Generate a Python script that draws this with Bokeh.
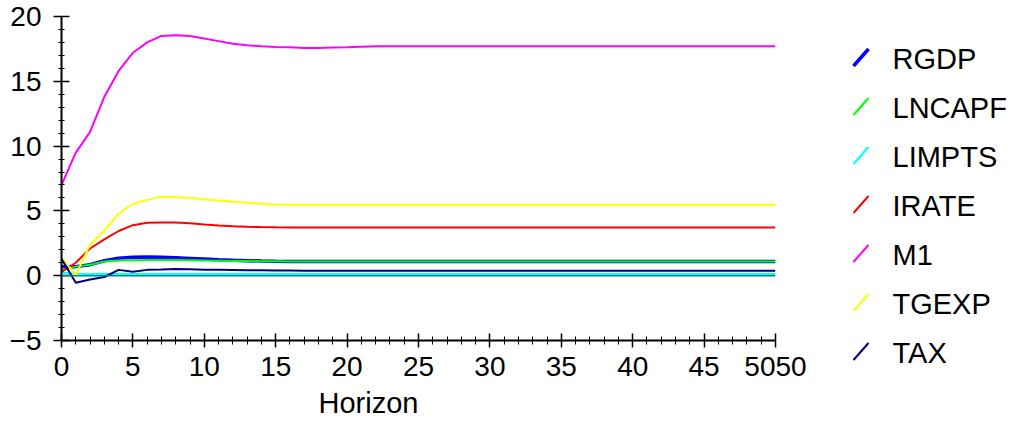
from bokeh.plotting import figure
from bokeh.layouts import row
from bokeh.models import Range1d, SingleIntervalTicker, Span, ColumnDataSource, Title
from bokeh.embed import file_html
from bokeh.resources import INLINE
from bokeh.core.properties import value

# ---------------- data ----------------
horizon = list(range(51))

RGDP = [0.7, 0.7, 0.85, 1.15, 1.35, 1.42, 1.45, 1.42, 1.38, 1.33, 1.28, 1.23, 1.19, 1.16, 1.13, 1.11, 1.1,
        1.09, 1.09, 1.09, 1.09, 1.09, 1.09, 1.09, 1.09, 1.09, 1.09, 1.09, 1.09, 1.09, 1.09, 1.09, 1.09,
        1.09, 1.09, 1.09, 1.09, 1.09, 1.09, 1.09, 1.09, 1.09, 1.09, 1.09, 1.09, 1.09, 1.09, 1.09, 1.09,
        1.09, 1.09]
LNCAPF = [0.45, 0.7, 0.85, 1.1, 1.18, 1.2, 1.22, 1.22, 1.22, 1.2, 1.18, 1.16, 1.14, 1.13, 1.12, 1.11, 1.1,
          1.1, 1.1, 1.1, 1.1, 1.1, 1.1, 1.1, 1.1, 1.1, 1.1, 1.1, 1.1, 1.1, 1.1, 1.1, 1.1,
          1.1, 1.1, 1.1, 1.1, 1.1, 1.1, 1.1, 1.1, 1.1, 1.1, 1.1, 1.1, 1.1, 1.1, 1.1, 1.1,
          1.1, 1.1]
LIMPTS = [0.25, 0.15, 0.13, 0.13, 0.13, 0.13, 0.13, 0.13, 0.13, 0.13, 0.13, 0.13, 0.13, 0.13, 0.13, 0.13, 0.13,
          0.13, 0.13, 0.13, 0.13, 0.13, 0.13, 0.13, 0.13, 0.13, 0.13, 0.13, 0.13, 0.13, 0.13, 0.13, 0.13,
          0.13, 0.13, 0.13, 0.13, 0.13, 0.13, 0.13, 0.13, 0.13, 0.13, 0.13, 0.13, 0.13, 0.13, 0.13, 0.13,
          0.13, 0.13]
IRATE = [0.3, 1.0, 2.1, 2.8, 3.45, 3.9, 4.08, 4.1, 4.1, 4.05, 3.95, 3.88, 3.82, 3.78, 3.75, 3.73, 3.72,
         3.72, 3.72, 3.72, 3.72, 3.72, 3.72, 3.72, 3.72, 3.72, 3.72, 3.72, 3.72, 3.72, 3.72, 3.72, 3.72,
         3.72, 3.72, 3.72, 3.72, 3.72, 3.72, 3.72, 3.72, 3.72, 3.72, 3.72, 3.72, 3.72, 3.72, 3.72, 3.72,
         3.72, 3.72]
M1 = [7.0, 9.5, 11.1, 13.8, 15.8, 17.2, 18.0, 18.5, 18.55, 18.5, 18.3, 18.1, 17.9, 17.78, 17.7, 17.65, 17.62,
      17.57, 17.57, 17.6, 17.62, 17.66, 17.7, 17.7, 17.7, 17.7, 17.7, 17.7, 17.7, 17.7, 17.7, 17.7, 17.7,
      17.7, 17.7, 17.7, 17.7, 17.7, 17.7, 17.7, 17.7, 17.7, 17.7, 17.7, 17.7, 17.7, 17.7, 17.7, 17.7,
      17.7, 17.7]
TGEXP = [1.4, 0.05, 2.4, 3.45, 4.8, 5.55, 5.85, 6.1, 6.05, 6.0, 5.9, 5.8, 5.7, 5.62, 5.55, 5.5, 5.48,
         5.47, 5.47, 5.47, 5.47, 5.47, 5.47, 5.47, 5.47, 5.47, 5.47, 5.47, 5.47, 5.47, 5.47, 5.47, 5.47,
         5.47, 5.47, 5.47, 5.47, 5.47, 5.47, 5.47, 5.47, 5.47, 5.47, 5.47, 5.47, 5.47, 5.47, 5.47, 5.47,
         5.47, 5.47]
TAX = [1.3, -0.55, -0.3, -0.1, 0.45, 0.3, 0.45, 0.48, 0.52, 0.5, 0.46, 0.45, 0.44, 0.43, 0.42, 0.4, 0.4,
       0.38, 0.38, 0.38, 0.38, 0.38, 0.38, 0.38, 0.38, 0.38, 0.38, 0.38, 0.38, 0.38, 0.38, 0.38, 0.38,
       0.38, 0.38, 0.38, 0.38, 0.38, 0.38, 0.38, 0.38, 0.38, 0.38, 0.38, 0.38, 0.38, 0.38, 0.38, 0.38,
       0.38, 0.38]

series_names = ["RGDP", "LNCAPF", "LIMPTS", "IRATE", "M1", "TGEXP", "TAX"]
series_values = [RGDP, LNCAPF, LIMPTS, IRATE, M1, TGEXP, TAX]
series_colors = ["#0000ff", "#00ff00", "#00ffff", "#ff0000", "#ff00ff", "#ffff00", "#000080"]
series_widths = [3.5, 2, 2, 2, 2, 2, 2]

x_title = "Horizon"
last_tick_label = {50: "5050"}   # the reference prints "50" twice at the end of the axis

FONT = "Liberation Sans"
H = 427

# ---------------- main chart ----------------
p = figure(width=835, height=H,
           x_range=Range1d(0, 50), y_range=Range1d(-5, 20),
           output_backend="svg", toolbar_location=None,
           min_border_left=61, min_border_right=60,
           min_border_top=16, min_border_bottom=H - 16 - 324)
p.frame_align = False
p.grid.visible = False
p.outline_line_color = None

for vals, col, w in zip(series_values, series_colors, series_widths):
    p.line(horizon, vals, line_color=col, line_width=w)

p.add_layout(Span(location=0, dimension="width", line_color="#008080", line_width=1.5))

xa = p.xaxis[0]
xa.ticker = SingleIntervalTicker(interval=5, num_minor_ticks=5)
xa.major_label_overrides = last_tick_label
xa.major_label_text_font = FONT
xa.major_label_text_font_size = "28px"
xa.major_label_text_color = "black"
xa.major_label_standoff = 9
xa.axis_line_width = 2
xa.axis_line_color = "black"
xa.major_tick_in = 7
xa.major_tick_out = 7
xa.minor_tick_in = 4
xa.minor_tick_out = 4
xa.major_tick_line_width = 1.5
xa.minor_tick_line_width = 1
xa.major_tick_line_color = "black"
xa.minor_tick_line_color = "black"

ya = p.yaxis[0]
ya.ticker = SingleIntervalTicker(interval=5, num_minor_ticks=5)
ya.major_label_text_font = FONT
ya.major_label_text_font_size = "28px"
ya.major_label_text_color = "black"
ya.major_label_standoff = 12
ya.axis_line_width = 2
ya.axis_line_color = "black"
ya.major_tick_in = 8
ya.major_tick_out = 8
ya.minor_tick_in = 3
ya.minor_tick_out = 3
ya.major_tick_line_width = 1.5
ya.minor_tick_line_width = 1
ya.major_tick_line_color = "black"
ya.minor_tick_line_color = "black"

# axis title, as a title panel below the axis
p.add_layout(Title(text=x_title, align="left", offset=257, standoff=13,
                   text_font=FONT, text_font_size="29px", text_font_style="normal",
                   text_color="black"), "below")

# ---------------- legend panel ----------------
LW = 173
leg = figure(width=LW, height=H,
             x_range=Range1d(835, 835 + LW), y_range=Range1d(H, 0),
             output_backend="svg", toolbar_location=None,
             min_border=0, x_axis_type=None, y_axis_type=None)
leg.frame_align = False
leg.grid.visible = False
leg.outline_line_color = None

n = len(series_names)
yc = [57 + 49 * i for i in range(n)]
src = ColumnDataSource(dict(
    x0=[853] * n, x1=[868] * n,
    y0=[y + 8.5 for y in yc], y1=[y - 8.5 for y in yc],
    tx=[892] * n, ty=[y + 1 for y in yc],
    name=series_names, color=series_colors, width=series_widths,
))
leg.segment(x0="x0", y0="y0", x1="x1", y1="y1", line_color="color", line_width="width", source=src)
leg.text(x="tx", y="ty", text="name", source=src, text_font=value(FONT),
         text_font_size=value("29px"), text_color="black",
         text_align="left", text_baseline="middle")

layout = row(p, leg)
open("out.html", "w").write(file_html(layout, INLINE))
